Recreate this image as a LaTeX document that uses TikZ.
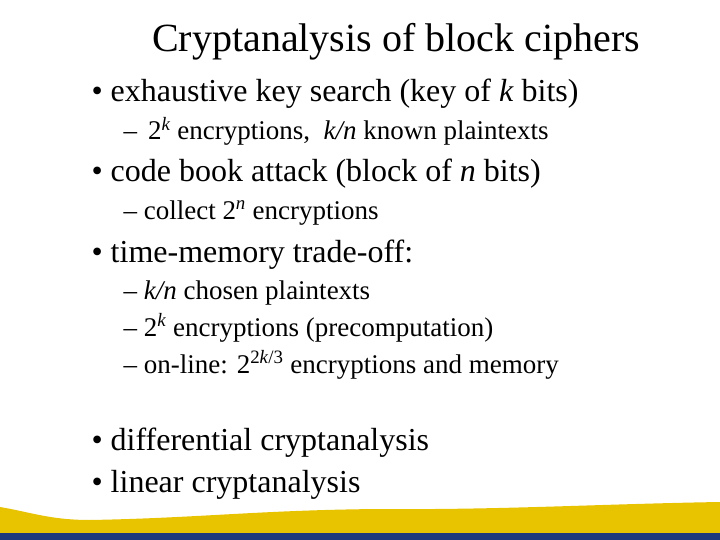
\documentclass[tikz,border=0pt]{standalone}
\usepackage{fontspec}
\setmainfont{Liberation Serif}
\definecolor{gold}{HTML}{E8C300}
\definecolor{navy}{HTML}{1F3A7A}
\begin{document}
\begin{tikzpicture}[x=1pt,y=-1pt,
  bul/.style={anchor=base west,font=\fontsize{32}{36}\selectfont},
  sub/.style={anchor=base west,font=\fontsize{27}{30}\selectfont}]
\useasboundingbox (0,0) rectangle (720,540);
\fill[white] (0,0) rectangle (720,540);
\fill[gold] (0,507) .. controls (30,512) and (50,520) .. (90,520) .. controls (200,518) and (260,510) .. (380,509) .. controls (500,510) and (600,504) .. (720,502) -- (720,533) -- (0,533) -- cycle;
\fill[navy] (0,533) rectangle (720,540);
\node[anchor=base,font=\fontsize{40}{44}\selectfont] (title) at (396,52) {Cryptanalysis of block ciphers};
\node[bul] (b1) at (88,102) {•\hspace{8pt}exhaustive key search (key of \textit{k} bits)};
\node[sub] (s1) at (120,140) {–\hspace{11pt}2\textsuperscript{\textit{k}} encryptions,\ \ \textit{k/n} known plaintexts};
\node[sub] (s1b) at (0,0) {};
\node[bul] (b2) at (88,182) {•\hspace{8pt}code book attack (block of \textit{n} bits)};
\node[sub] (s2) at (120,219) {– collect 2\textsuperscript{\textit{n}} encryptions};
\node[bul] (b3) at (88,262) {•\hspace{8pt}time-memory trade-off:};
\node[sub] (s3) at (120,299) {– \textit{k/n} chosen plaintexts};
\node[sub] (s4) at (120,336) {– 2\textsuperscript{\textit{k}} encryptions (precomputation)};
\node[sub] (s5) at (120,373) {– on-line: 2\textsuperscript{2\textit{k}/3} encryptions and memory};
\node[bul] (b4) at (88,450) {•\hspace{8pt}differential cryptanalysis};
\node[bul] (b5) at (88,492) {•\hspace{8pt}linear cryptanalysis};
\end{tikzpicture}
\end{document}
